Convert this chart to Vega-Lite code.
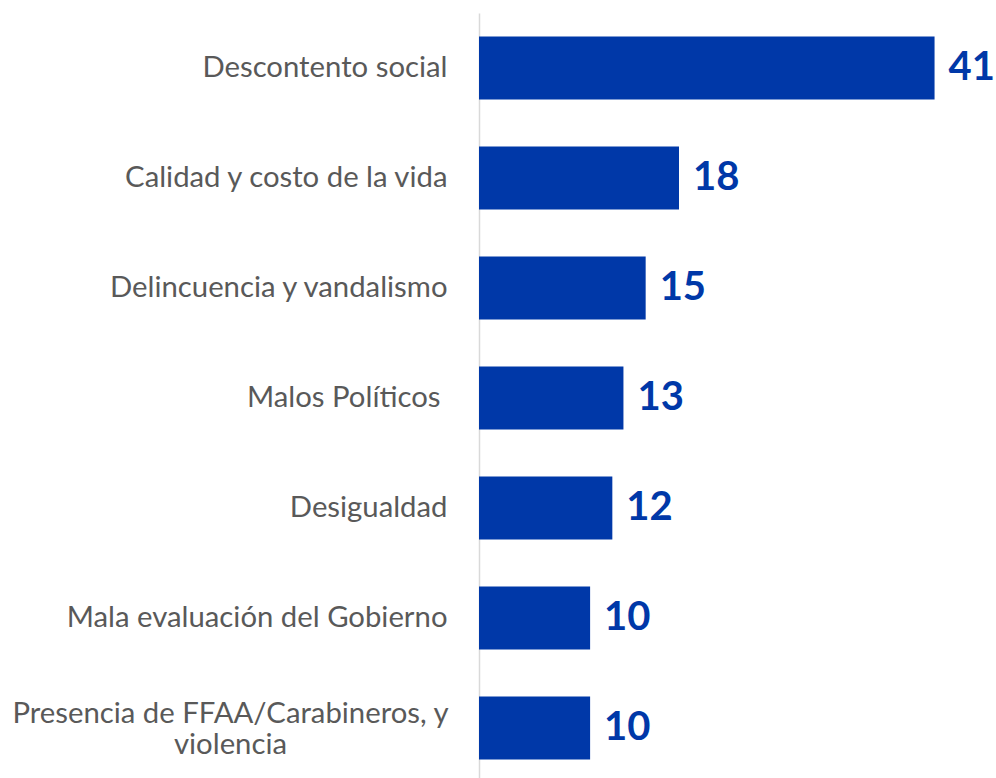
{
  "$schema": "https://vega.github.io/schema/vega-lite/v6.json",
  "autosize": "none",
  "width": 500,
  "height": 770,
  "padding": {"left": 479, "top": 13, "right": 17, "bottom": 0},
  "background": "white",
  "config": {"view": {"stroke": null}},
  "data": {
    "values": [
      {"cat": "Descontento social", "value": 41},
      {"cat": "Calidad y costo de la vida", "value": 18},
      {"cat": "Delincuencia y vandalismo", "value": 15},
      {"cat": "Malos Políticos", "value": 13},
      {"cat": "Desigualdad", "value": 12},
      {"cat": "Mala evaluación del Gobierno", "value": 10},
      {"cat": "Presencia de FFAA/Carabineros, y|violencia", "value": 10}
    ]
  },
  "encoding": {
    "y": {
      "field": "cat",
      "type": "nominal",
      "sort": null,
      "scale": {"paddingInner": 0.427, "paddingOuter": 0.2135},
      "axis": {
        "title": null,
        "ticks": false,
        "domainColor": "#d9d9d9",
        "domainWidth": 1.5,
        "labelFont": "Lato",
        "labelFontSize": 29.3,
        "labelColor": "#595959",
        "labelLimit": 600,
        "labelLineHeight": 31,
        "labelExpr": "split(datum.label, '|')",
        "labelAlign": {"condition": {"test": "indexof(datum.value, '|') >= 0", "value": "center"}, "value": "right"},
        "labelOffset": {"condition": {"test": "indexof(datum.value, '|') >= 0", "value": -14}, "value": 0},
        "labelPadding": {
          "condition": [
            {"test": "indexof(datum.value, '|') >= 0", "value": 249},
            {"test": "datum.value == 'Malos Políticos'", "value": 39}
          ],
          "value": 32
        }
      }
    },
    "x": {
      "field": "value",
      "type": "quantitative",
      "scale": {"domain": [0, 45]},
      "axis": null
    }
  },
  "layer": [
    {"mark": {"type": "bar", "color": "#0038A8"}},
    {
      "mark": {"type": "text", "align": "left", "baseline": "middle", "dx": 14, "font": "Lato", "fontSize": 40, "fontWeight": "bold", "color": "#0038A8"},
      "encoding": {"text": {"field": "value", "type": "quantitative"}}
    }
  ]
}
